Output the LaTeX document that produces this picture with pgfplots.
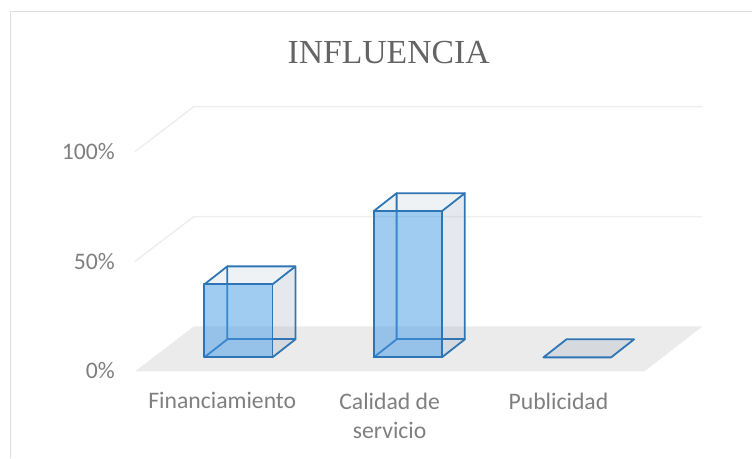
\documentclass[border=0pt]{standalone}
\usepackage{fontspec}
\setmainfont{Carlito}
\newfontfamily\titlefont{Liberation Serif}
\usepackage{pgfplots}
\pgfplotsset{compat=1.18}
\definecolor{edge}{RGB}{46,117,182}
\definecolor{frontc}{RGB}{66,153,230}
\definecolor{sidec}{RGB}{160,176,192}
\definecolor{floorc}{RGB}{235,235,235}
\definecolor{gridc}{RGB}{238,238,238}
\definecolor{framec}{RGB}{222,222,222}
\definecolor{labc}{RGB}{127,127,127}
\pgfplotsset{
 front/.style={draw=none,fill=frontc,fill opacity=.5},
 side/.style={draw=none,fill=sidec,fill opacity=.28},
 top/.style={draw=none,fill=sidec,fill opacity=.17},
 edges/.style={draw=edge,line width=1.8pt,line join=round,line cap=round,forget plot},
}
\begin{document}
\begin{tikzpicture}
\begin{axis}[
 x=1pt,y=2.2pt,
 xmin=118,xmax=753,ymin=0,ymax=169,
 clip=false,
 axis line style={draw=none},
 tick style={draw=none},
 major tick length=0pt,
 ytick={0,50,100},
 yticklabel={\pgfmathprintnumber{\tick}\%},
 /pgf/number format/assume math mode=true,
 yticklabel style={font=\fontsize{23.7}{28}\selectfont,text=labc,inner sep=0pt,anchor=east,xshift=0pt},
 ylabel={},
 xtick={222.5,390,559},
 xticklabels={Financiamiento,{Calidad de\\servicio},Publicidad},
 xticklabel style={font=\fontsize{23.7}{29}\selectfont,text=labc,align=center,inner sep=0pt,anchor=north},
 every x tick label/.append style={yshift=-21pt},
 every y tick label/.append style={xshift=-3pt,yshift=0.5pt},
]
% page
\addplot[draw=none] coordinates {(0,-39.18) (753,-39.18) (753,169) (0,169)} -- cycle;
\addplot[draw=framec,line width=1.5pt] coordinates {(10.5,-39.18) (10.5,163.77) (753,163.77)};
% floor and grid
\addplot[draw=none,fill=floorc] coordinates {(135,0) (645,0) (703,20.45) (194,20.45)} -- cycle;
\addplot[draw=gridc,line width=1.5pt] coordinates {(135,50) (194,70.45) (703,70.45)};
\addplot[draw=gridc,line width=1.5pt] coordinates {(135,100) (194,120.45) (703,120.45)};
% Bar 1
\addplot[side] coordinates {(272.7,6.4) (295.7,14.6) (295.7,47.8) (272.7,39.6)} -- cycle;
\addplot[top] coordinates {(204.5,39.6) (227.5,47.8) (295.7,47.8) (272.7,39.6)} -- cycle;
\addplot[edges] coordinates {(204.5,6.4) (227.5,14.6) (227.5,47.8)};
\addplot[edges] coordinates {(227.5,14.6) (295.7,14.6)};
\addplot[front] coordinates {(204.5,6.4) (272.7,6.4) (272.7,39.6) (204.5,39.6)} -- cycle;
\addplot[edges] coordinates {(204.5,6.4) (272.7,6.4) (272.7,39.6) (204.5,39.6)} -- cycle;
\addplot[edges] coordinates {(272.7,6.4) (295.7,14.6) (295.7,47.8) (272.7,39.6)};
\addplot[edges] coordinates {(204.5,39.6) (227.5,47.8) (295.7,47.8)};
% Bar 2
\addplot[side] coordinates {(442.3,6.4) (465.3,14.6) (465.3,81.1) (442.3,72.9)} -- cycle;
\addplot[top] coordinates {(374,72.9) (397,81.1) (465.3,81.1) (442.3,72.9)} -- cycle;
\addplot[edges] coordinates {(374,6.4) (397,14.6) (397,81.1)};
\addplot[edges] coordinates {(397,14.6) (465.3,14.6)};
\addplot[front] coordinates {(374,6.4) (442.3,6.4) (442.3,72.9) (374,72.9)} -- cycle;
\addplot[edges] coordinates {(374,6.4) (442.3,6.4) (442.3,72.9) (374,72.9)} -- cycle;
\addplot[edges] coordinates {(442.3,6.4) (465.3,14.6) (465.3,81.1) (442.3,72.9)};
\addplot[edges] coordinates {(374,72.9) (397,81.1) (465.3,81.1)};
% Bar 3
\addplot[side] coordinates {(544,6.4) (611.7,6.4) (634.7,14.6) (567,14.6)} -- cycle;
\addplot[edges] coordinates {(544,6.4) (611.7,6.4) (634.7,14.6) (567,14.6)} -- cycle;
% title
\node[font=\titlefont\fontsize{33.7}{40}\selectfont,text={rgb,255:red,100;green,100;blue,100},anchor=center] at (axis cs:389,145) {INFLUENCIA};
\end{axis}
\end{tikzpicture}
\end{document}
